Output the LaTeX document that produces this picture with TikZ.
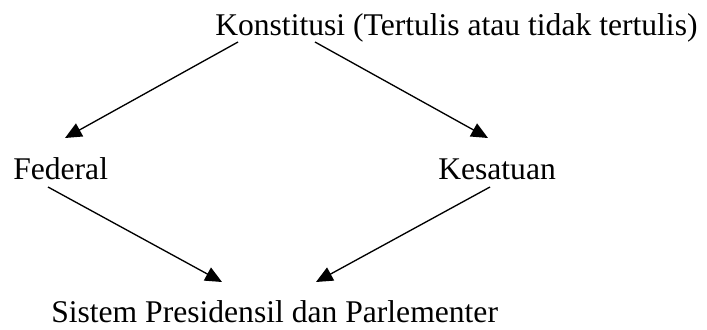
\documentclass[tikz,border=0pt]{standalone}
\usepackage{fontspec}
\setmainfont{Liberation Serif}
\usetikzlibrary{arrows.meta}
\tikzset{
  lbl/.style={inner sep=0pt, anchor=base west, font=\fontsize{23.7}{28}\selectfont},
  arr/.style={line width=1pt, -{Triangle[length=12.5pt,width=11pt]}}
}
\begin{document}
\begin{tikzpicture}[x=0.75pt,y=-0.75pt]
\useasboundingbox (0,0) rectangle (707,329);
\node[lbl] (k) at (215,35) {Konstitusi (Tertulis atau tidak tertulis)};
\node[lbl] (f) at (13,179) {Federal};
\node[lbl] (s) at (438,179) {Kesatuan};
\node[lbl] (p) at (51,322) {Sistem Presidensil dan Parlementer};
\coordinate (k1) at (238,42);
\coordinate (k2) at (315,42);
\coordinate (fin) at (65,138);
\coordinate (sin) at (488,138);
\coordinate (fout) at (48,187);
\coordinate (sout) at (490,187);
\coordinate (p1) at (222,282);
\coordinate (p2) at (316,282);
\draw[arr] (k1) -- (fin);
\draw[arr] (k2) -- (sin);
\draw[arr] (fout) -- (p1);
\draw[arr] (sout) -- (p2);
\end{tikzpicture}
\end{document}
